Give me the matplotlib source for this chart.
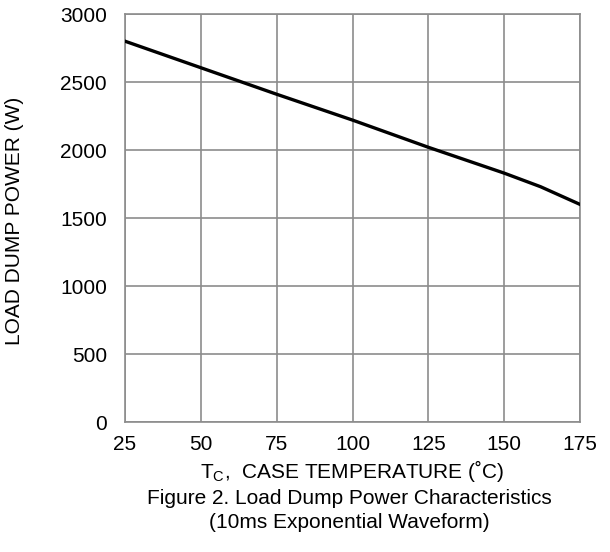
import matplotlib
matplotlib.use("Agg")
import matplotlib.pyplot as plt

plt.rcParams['font.family'] = ['Liberation Sans', 'DejaVu Sans']

# case temperature (C) and load dump power (W)
temp = [25, 50, 75, 100, 125, 150, 162, 175]
power = [2800, 2605, 2410, 2220, 2020, 1830, 1730, 1600]

xticks = [25, 50, 75, 100, 125, 150, 175]
yticks = [0, 500, 1000, 1500, 2000, 2500, 3000]

fig = plt.figure(figsize=(6.1, 5.52), dpi=100)
ax = fig.add_axes([125 / 610, 1 - 422 / 552, 455 / 610, 408 / 552])

ax.plot(temp, power, color='black', linewidth=2.4, zorder=3)

ax.set_xlim(25, 175)
ax.set_ylim(0, 3000)
ax.set_xticks(xticks)
ax.set_yticks(yticks)
ax.grid(True, color='#8c8c8c', linewidth=1.2)
for s in ax.spines.values():
    s.set_color('#8c8c8c')
    s.set_linewidth(1.2)
ax.tick_params(length=0, labelsize=15)
ax.tick_params(axis='x', pad=9)
ax.tick_params(axis='y', pad=13)

# axis titles and caption placed in figure pixels
fig.text(15 / 610, 1 - 221 / 552, 'LOAD DUMP POWER (W)', rotation=90,
         ha='center', va='center', fontsize=15)
fig.text(352 / 610, 1 - 471 / 552, r'T$_\mathregular{C}$,  CASE TEMPERATURE (˚C)',
         ha='center', va='center', fontsize=15)
fig.text(349 / 610, 1 - 498 / 552, 'Figure 2. Load Dump Power Characteristics',
         ha='center', va='center', fontsize=15)
fig.text(349 / 610, 1 - 522 / 552, '(10ms Exponential Waveform)',
         ha='center', va='center', fontsize=15)

fig.savefig('out.png', dpi=100)
